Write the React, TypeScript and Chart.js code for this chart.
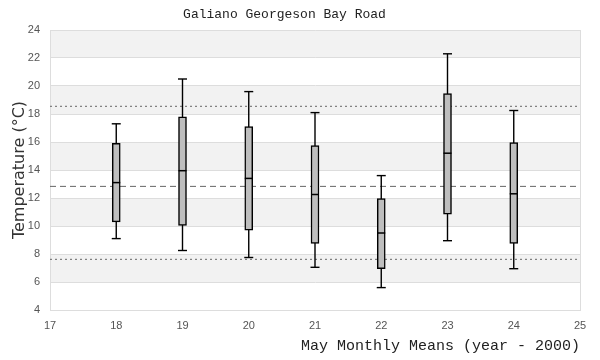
import React, { useEffect, useRef } from "react";
import { Chart, registerables } from "chart.js";

Chart.register(...registerables);

// ---- data ----
const chartTitle = "Galiano Georgeson Bay Road";
const xTitle = "May Monthly Means (year - 2000)";
const yTitle = "Temperature (°C)";
const years = [18, 19, 20, 21, 22, 23, 24];
const whiskerLow = [9.1, 8.25, 7.75, 7.05, 5.6, 8.95, 6.95];
const boxLow = [10.3, 10.05, 9.7, 8.75, 6.95, 10.85, 8.75];
const medians = [13.1, 13.95, 13.4, 12.25, 9.5, 15.2, 12.3];
const boxHigh = [15.9, 17.8, 17.1, 15.75, 11.95, 19.45, 15.95];
const whiskerHigh = [17.3, 20.5, 19.6, 18.1, 13.6, 22.3, 18.25];
const meanLine = 12.83;
const upperLine = 18.55;
const lowerLine = 7.62;
const xMin = 17;
const xMax = 25;
const yMin = 4;
const yMax = 24;
const yStep = 2;

const bandPlugin = {
  id: "bands",
  beforeDraw(chart: any) {
    const { ctx, chartArea, scales } = chart;
    const y = scales.y;
    ctx.save();
    ctx.fillStyle = "#f2f2f2";
    for (let v = yMax; v > yMin; v -= yStep * 2) {
      const top = y.getPixelForValue(v);
      const bot = y.getPixelForValue(v - yStep);
      ctx.fillRect(chartArea.left, top, chartArea.right - chartArea.left, bot - top);
    }
    ctx.restore();
  },
};

function hLine(v: number, dash: number[]) {
  return {
    type: "line",
    data: [
      { x: xMin, y: v },
      { x: xMax, y: v },
    ],
    borderColor: "#666666",
    borderWidth: 1,
    borderDash: dash,
    pointRadius: 0,
    order: 10,
  };
}

export default function App() {
  const ref = useRef<HTMLCanvasElement | null>(null);

  useEffect(() => {
    if (!ref.current) return;
    const whiskerData: any[] = [];
    years.forEach((x, i) => {
      whiskerData.push({ x, y: whiskerLow[i] });
      whiskerData.push({ x, y: whiskerHigh[i] });
      whiskerData.push({ x, y: null });
    });
    const capData: any[] = [];
    years.forEach((x, i) => {
      capData.push({ x, y: whiskerLow[i] });
      capData.push({ x, y: whiskerHigh[i] });
    });

    const chart = new Chart(ref.current, {
      type: "bar",
      data: {
        datasets: [
          hLine(upperLine, [2, 3]),
          hLine(meanLine, [6, 4]),
          hLine(lowerLine, [2, 3]),
          {
            type: "line",
            data: whiskerData,
            borderColor: "#000000",
            borderWidth: 1.4,
            pointRadius: 0,
            spanGaps: false,
            order: 6,
          },
          {
            type: "bar",
            data: years.map((x, i) => ({ x, y: [boxLow[i], boxHigh[i]] })),
            backgroundColor: "#bebebe",
            borderColor: "#000000",
            borderWidth: 1.5,
            borderSkipped: false,
            barThickness: 8,
            grouped: false,
            order: 4,
          },
          {
            type: "line",
            data: capData,
            showLine: false,
            pointStyle: "line",
            pointRadius: 4.5,
            pointBorderWidth: 1.4,
            pointBorderColor: "#000000",
            order: 3,
          },
          {
            type: "line",
            data: years.map((x, i) => ({ x, y: medians[i] })),
            showLine: false,
            pointStyle: "line",
            pointRadius: 4,
            pointBorderWidth: 1.5,
            pointBorderColor: "#000000",
            order: 2,
          },
        ] as any,
      },
      options: {
        animation: false,
        responsive: false,
        devicePixelRatio: 1,
        events: [],
        layout: { padding: { top: 7.2, left: -11, right: 20, bottom: 0 } },
        plugins: {
          legend: { display: false },
          tooltip: { enabled: false },
          title: {
            display: true,
            text: chartTitle,
            color: "#222222",
            font: { family: '"Liberation Mono", monospace', size: 13, weight: "normal" },
            padding: { top: 0, bottom: 7.2 },
          },
        },
        scales: {
          x: {
            type: "linear",
            min: xMin,
            max: xMax,
            offset: false,
            grid: {
              offset: false,
              drawTicks: false,
              color: (c: any) =>
                c.tick && (c.tick.value === xMin || c.tick.value === xMax)
                  ? "#dddddd"
                  : "rgba(0,0,0,0)",
            },
            border: { display: true, color: "#dddddd" },
            ticks: {
              stepSize: 1,
              padding: 9,
              color: "#555555",
              font: { family: '"Liberation Sans", Arial, sans-serif', size: 11 },
            },
            title: {
              display: true,
              text: xTitle,
              align: "end",
              color: "#222222",
              font: { family: '"Liberation Mono", monospace', size: 15 },
              padding: { top: 0, bottom: 5 },
            },
            afterFit: (s: any) => {
              s.height = 50;
            },
          },
          y: {
            type: "linear",
            min: yMin,
            max: yMax,
            grid: { drawTicks: false, color: "#dddddd" },
            border: { display: true, color: "#dddddd" },
            ticks: {
              stepSize: yStep,
              padding: 10,
              color: "#555555",
              font: { family: '"Liberation Sans", Arial, sans-serif', size: 11 },
            },
            title: {
              display: true,
              text: yTitle,
              color: "#333333",
              font: { family: '"DejaVu Sans", sans-serif', size: 16 },
              padding: { top: 21.4, bottom: 0 },
            },
            afterFit: (s: any) => {
              s.width = 61;
            },
          },
        },
      } as any,
      plugins: [bandPlugin],
    });
    return () => chart.destroy();
  }, []);

  return (
    <div style={{ position: "fixed", left: 0, top: 0, width: 600, height: 360 }}>
      <canvas ref={ref} width={600} height={360} style={{ width: 600, height: 360 }} />
    </div>
  );
}
